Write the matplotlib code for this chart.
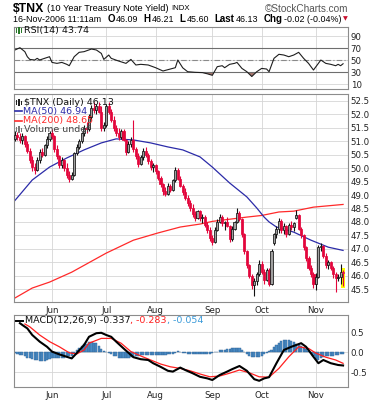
import numpy as np
import pandas as pd
import matplotlib
matplotlib.use('Agg')
import matplotlib.pyplot as plt
from matplotlib.patches import Rectangle

# ---------------- data ----------------
holidays = ['2006-05-29', '2006-07-04', '2006-09-04']
dates = pd.bdate_range('2006-05-10', '2006-11-16')
dates = dates[~dates.isin(pd.to_datetime(holidays))]

opens = [51.10, 51.25, 51.15, 51.05, 51.20, 50.90, 50.65, 50.30, 50.05, 49.95,
         50.30, 50.60, 50.50, 50.85, 51.10, 51.30, 51.20, 50.70, 50.45, 50.10,
         50.30, 50.00, 49.75, 49.60, 49.75, 50.55, 50.80, 51.00, 51.30, 51.50,
         51.45, 51.90, 52.25, 52.15, 52.30, 52.10, 51.50, 51.60, 52.30, 52.10,
         51.80, 51.50, 51.30, 51.15, 51.40, 51.05, 50.60, 50.90, 51.05, 50.70,
         50.45, 50.15, 50.40, 50.65, 50.50, 50.25, 50.05, 50.10, 49.90, 49.65,
         49.40, 49.15, 49.05, 49.35, 49.20, 49.55, 49.95, 49.60, 49.35, 49.10,
         48.90, 48.70, 48.50, 48.30, 48.15, 48.40, 48.15, 48.20, 47.90, 47.70,
         47.40, 47.25, 47.70, 48.00, 48.20, 47.95, 48.00, 47.85, 47.35, 47.75,
         48.00, 48.35, 48.10, 47.55, 46.90, 46.40, 46.00, 45.65, 45.80, 46.05,
         46.45, 46.15, 45.85, 46.20, 45.70, 47.20, 47.55, 47.75, 48.05, 47.70,
         47.85, 47.55, 47.90, 47.80, 48.15, 48.25, 47.75, 47.50, 47.05, 46.65,
         46.30, 46.05, 45.70, 45.95, 47.05, 47.10, 46.75, 46.40, 46.50, 46.30,
         46.05, 45.90, 45.95, 46.09]
highs = [51.40, 51.35, 51.30, 51.30, 51.25, 51.00, 50.75, 50.45, 50.20, 50.40,
         50.70, 50.75, 50.90, 51.20, 51.40, 51.45, 51.25, 50.85, 50.50, 50.40,
         50.35, 50.20, 49.90, 49.85, 50.60, 50.90, 51.10, 51.35, 51.60, 51.70,
         52.00, 52.35, 52.45, 52.40, 52.45, 52.30, 51.70, 52.40, 52.45, 52.20,
         51.95, 51.60, 51.50, 51.45, 51.45, 51.10, 51.00, 51.15, 51.80, 50.80,
         50.55, 50.50, 50.75, 50.80, 50.55, 50.35, 50.20, 50.15, 49.95, 49.70,
         49.45, 49.30, 49.45, 49.40, 49.60, 50.05, 50.00, 49.70, 49.40, 49.25,
         49.00, 48.80, 48.65, 48.40, 48.45, 48.45, 48.30, 48.25, 48.00, 47.80,
         47.50, 47.80, 48.10, 48.30, 48.25, 48.05, 48.20, 47.90, 47.85, 48.05,
         48.50, 48.40, 48.15, 47.60, 46.95, 46.45, 46.05, 45.90, 46.15, 46.60,
         46.55, 46.25, 46.30, 46.30, 47.00, 47.60, 47.85, 48.15, 48.10, 47.95,
         47.90, 47.95, 48.05, 48.00, 48.45, 48.30, 47.80, 47.55, 47.10, 46.75,
         46.40, 46.15, 46.10, 47.15, 47.20, 47.15, 46.85, 46.60, 46.55, 46.35,
         46.15, 46.05, 46.45, 46.21]
lows = [51.00, 51.05, 50.95, 50.90, 50.80, 50.55, 50.20, 49.90, 49.80, 49.90,
        50.20, 50.40, 50.45, 50.75, 51.00, 51.10, 50.60, 50.35, 50.00, 50.00,
        49.90, 49.65, 49.50, 49.55, 49.70, 50.50, 50.70, 50.95, 51.20, 51.30,
        51.40, 51.80, 52.05, 52.00, 52.05, 51.40, 51.40, 51.55, 52.00, 51.70,
        51.40, 51.20, 51.05, 51.10, 51.00, 50.50, 50.55, 50.80, 50.60, 50.35,
        50.05, 50.10, 50.30, 50.40, 50.15, 49.95, 49.85, 49.80, 49.55, 49.30,
        49.00, 48.95, 49.00, 49.10, 49.15, 49.50, 49.55, 49.30, 49.00, 48.80,
        48.60, 48.40, 48.20, 48.05, 48.10, 48.05, 47.95, 47.80, 47.60, 47.30,
        47.15, 47.20, 47.65, 47.95, 47.85, 47.70, 47.80, 47.25, 47.30, 47.70,
        47.95, 48.05, 47.45, 46.80, 46.30, 45.90, 45.50, 45.25, 45.65, 46.00,
        46.05, 45.70, 45.80, 45.60, 45.65, 47.15, 47.40, 47.60, 47.60, 47.55,
        47.45, 47.50, 47.70, 47.65, 48.10, 47.70, 47.40, 46.95, 46.55, 46.20,
        45.95, 45.55, 45.45, 45.90, 46.90, 46.65, 46.30, 46.25, 46.20, 45.90,
        45.40, 45.80, 45.70, 45.60]
closes = [51.25, 51.15, 51.05, 51.20, 50.90, 50.65, 50.30, 50.05, 49.95, 50.30,
          50.60, 50.50, 50.85, 51.10, 51.30, 51.20, 50.70, 50.45, 50.10, 50.30,
          50.00, 49.75, 49.60, 49.75, 50.55, 50.80, 51.00, 51.30, 51.50, 51.45,
          51.90, 52.25, 52.15, 52.30, 52.10, 51.50, 51.60, 52.30, 52.10, 51.80,
          51.50, 51.30, 51.15, 51.40, 51.05, 50.60, 50.90, 51.05, 50.70, 50.45,
          50.15, 50.40, 50.65, 50.50, 50.25, 50.05, 50.10, 49.90, 49.65, 49.40,
          49.15, 49.05, 49.35, 49.20, 49.55, 49.95, 49.60, 49.35, 49.10, 48.90,
          48.70, 48.50, 48.30, 48.15, 48.40, 48.15, 48.20, 47.90, 47.70, 47.40,
          47.25, 47.70, 48.00, 48.20, 47.95, 48.00, 47.85, 47.35, 47.75, 48.00,
          48.35, 48.10, 47.55, 46.90, 46.40, 46.00, 45.65, 45.80, 46.05, 46.45,
          46.15, 45.85, 46.20, 45.70, 46.90, 47.55, 47.75, 48.05, 47.70, 47.85,
          47.55, 47.90, 47.80, 47.95, 48.25, 47.75, 47.50, 47.05, 46.65, 46.30,
          46.05, 45.70, 45.95, 47.05, 47.10, 46.75, 46.40, 46.50, 46.30, 46.05,
          45.90, 45.95, 46.15, 46.13]

ma50_day = [0, 7, 14, 21, 28, 35, 41, 48, 55, 62, 68, 75, 80, 87, 94, 98, 101,
            103, 106, 113, 120, 127, 133]
ma50_val = [48.80, 49.56, 50.04, 50.38, 50.68, 50.94, 51.09, 51.05, 50.94, 50.79,
            50.68, 50.42, 50.04, 49.45, 48.93, 48.52, 48.18, 48.00, 47.81, 47.62,
            47.32, 47.06, 46.94]
ma200_day = [0, 7, 14, 23, 37, 48, 58, 67, 75, 80, 94, 100, 107, 113, 121, 133]
ma200_val = [45.17, 45.54, 45.76, 46.13, 46.84, 47.32, 47.59, 47.81, 47.92, 48.02,
             48.18, 48.24, 48.37, 48.40, 48.55, 48.65]

rsi_day = [0, 2, 4, 5, 6, 8, 9, 10, 12, 14, 15, 17, 19, 21, 22, 24, 26, 28, 31, 33,
           35, 36, 38, 39, 42, 45, 47, 49, 51, 54, 57, 60, 63, 65, 66, 68, 70, 73,
           76, 78, 80, 82, 84, 85, 87, 89, 90, 92, 94, 96, 98, 100, 102, 103, 105,
           107, 109, 111, 113, 115, 117, 119, 121, 124, 126, 128, 130, 131, 132, 133]
rsi_val = [66.7, 70.5, 63.9, 55.5, 51.0, 50.0, 52.8, 50.0, 52.8, 55.5, 46.0, 44.4,
           46.0, 42.8, 40.5, 55.5, 62.8, 63.9, 68.3, 66.7, 61.0, 51.0, 58.3, 52.8,
           48.3, 44.4, 51.0, 41.7, 42.8, 41.7, 37.2, 31.7, 35.0, 37.2, 50.0, 37.0,
           30.5, 29.5, 29.0, 27.0, 24.5, 38.9, 40.5, 37.2, 42.8, 44.4, 46.0, 36.0,
           30.5, 22.5, 30.5, 36.0, 35.0, 30.5, 52.8, 59.5, 58.3, 55.5, 58.3, 62.8,
           52.8, 44.4, 33.3, 50.0, 44.4, 42.8, 40.5, 42.8, 40.5, 43.74]

macd_day = [2, 3, 5, 7, 10, 13, 15, 18, 21, 23, 25, 28, 30, 33, 35, 37, 39, 41, 44,
            48, 51, 54, 56, 59, 62, 64, 67, 69, 72, 75, 78, 80, 83, 86, 88, 91, 94,
            97, 99, 101, 103, 106, 109, 112, 114, 116, 118, 121, 123, 125, 128,
            131, 133]
macd_val = [0.72, 0.675, 0.59, 0.425, 0.26, 0.13, 0.01, -0.06, -0.12, -0.16, -0.03,
            0.175, 0.38, 0.47, 0.48, 0.425, 0.38, 0.26, 0.09, -0.13, -0.18, -0.20,
            -0.28, -0.37, -0.47, -0.49, -0.39, -0.45, -0.53, -0.62, -0.66, -0.70,
            -0.575, -0.49, -0.43, -0.35, -0.47, -0.68, -0.72, -0.66, -0.63, -0.28,
            0.05, 0.13, 0.175, 0.22, 0.13, -0.12, -0.28, -0.20, -0.28, -0.325, -0.337]
signal_day = [4, 6, 10, 14, 18, 22, 25, 28, 30, 35, 39, 43, 47, 51, 55, 59, 63, 67,
              71, 75, 79, 83, 87, 91, 95, 99, 103, 107, 111, 115, 119, 122, 126,
              130, 133]
signal_val = [0.70, 0.63, 0.425, 0.26, 0.13, -0.02, -0.05, 0.05, 0.22, 0.34, 0.34,
              0.22, 0.01, -0.10, -0.20, -0.30, -0.37, -0.41, -0.47, -0.55, -0.62,
              -0.60, -0.53, -0.45, -0.52, -0.62, -0.63, -0.41, -0.12, 0.13, 0.09,
              -0.03, -0.13, -0.20, -0.283]
hist_val = [-0.03, -0.05, -0.07, -0.08, -0.11, -0.14, -0.16, -0.18, -0.20, -0.21,
            -0.22, -0.23, -0.22, -0.20, -0.18, -0.16, -0.15, -0.15, -0.16, -0.16,
            -0.15, -0.13, -0.11, -0.09, -0.02, 0.05, 0.10, 0.15, 0.19, 0.21,
            0.24, 0.24, 0.23, 0.22, 0.15, 0.07, 0.03, 0.00, -0.03, -0.06,
            -0.09, -0.11, -0.14, -0.16, -0.15, -0.14, -0.14, -0.13, -0.12, -0.11,
            -0.10, -0.08, -0.08, -0.08, -0.08, -0.08, -0.08, -0.08, -0.08, -0.07,
            -0.07, -0.07, -0.06, -0.06, -0.06, -0.02, 0.03, 0.01, -0.02, -0.03,
            -0.04, -0.05, -0.05, -0.06, -0.06, -0.06, -0.06, -0.05, -0.05, -0.04,
            -0.03, -0.01, 0.01, 0.04, 0.05, 0.06, 0.07, 0.08, 0.09, 0.10,
            0.11, 0.10, 0.05, 0.01, -0.05, -0.11, -0.13, -0.13, -0.13, -0.13,
            -0.10, -0.05, -0.02, 0.02, 0.05, 0.12, 0.18, 0.22, 0.27, 0.30,
            0.30, 0.29, 0.27, 0.24, 0.20, 0.175, 0.14, 0.11, 0.08, 0.03,
            -0.03, -0.10, -0.18, -0.20, -0.14, -0.12, -0.11, -0.10, -0.10, -0.09,
            -0.08, -0.07, -0.06, -0.054]

month_labels = ['Jun', 'Jul', 'Aug', 'Sep', 'Oct', 'Nov']
price_ticks = [45.5, 46.0, 46.5, 47.0, 47.5, 48.0, 48.5, 49.0, 49.5, 50.0, 50.5,
               51.0, 51.5, 52.0, 52.5]
rsi_ticks = [10, 30, 50, 70, 90]
macd_ticks = [-0.5, 0.0, 0.5]

# ---------------- figure ----------------
W, H = 382, 400
fig = plt.figure(figsize=(W / 100, H / 100), dpi=100)
fig.patch.set_facecolor('white')
renderer = fig.canvas.get_renderer()

def ax_px(l, t, r, b):
    return fig.add_axes([l / W, 1 - b / H, (r - l) / W, (b - t) / H])

def ftext(x, y, s, **kw):
    kw.setdefault('va', 'center')
    kw.setdefault('ha', 'left')
    return fig.text(x / W, 1 - y / H, s, **kw)

def seq(x, y, items):
    for s, kw, gap in items:
        t = ftext(x, y, s, **kw)
        bb = t.get_window_extent(renderer)
        x = bb.x1 + gap
    return x

n = len(dates)
xs = np.arange(n)
month_pos = [int(np.argmax(dates.month == m)) for m in [6, 7, 8, 9, 10, 11]]
XL = (-0.4, 135.0)
GRID = '#d6d6d6'
BORDER = '#8c8c8c'

def style(ax, yt, ylim, ylabels, show_months):
    ax.set_xlim(*XL)
    ax.set_ylim(*ylim)
    ax.set_xticks(month_pos)
    ax.set_xticklabels(month_labels if show_months else [])
    ax.set_yticks(yt)
    ax.set_yticklabels(ylabels)
    ax.yaxis.tick_right()
    ax.tick_params(axis='both', length=0, labelsize=6.2, colors='#222222', pad=2)
    ax.tick_params(axis='x', pad=3)
    for s in ax.spines.values():
        s.set_color(BORDER)
        s.set_linewidth(0.8)
    ax.grid(True, color=GRID, lw=0.6)
    ax.set_axisbelow(True)

# ---- RSI panel ----
ax_r = ax_px(14, 27, 348, 89)
style(ax_r, rsi_ticks, (1.7, 105), [str(v) for v in rsi_ticks], False)
ax_r.axhline(70, color='#6e6e6e', lw=0.8)
ax_r.axhline(30, color='#6e6e6e', lw=0.8)
ax_r.axhline(50, color='#8a8a8a', lw=0.8, ls=(0, (5, 2, 1, 2)))
rd = np.array(rsi_day)
rv = np.array(rsi_val)
ax_r.fill_between(rd, rv, 30, where=rv < 30, interpolate=True, color='#a8776e', lw=0)
ax_r.fill_between(rd, rv, 70, where=rv > 70, interpolate=True, color='#a8776e', lw=0)
ax_r.plot(rd, rv, color='#1e1e1e', lw=0.8)

# ---- Price panel ----
ax_p = ax_px(14, 94, 348, 302)
style(ax_p, price_ticks, (45.02, 52.76), ['%.1f' % v for v in price_ticks], True)
o = np.array(opens); h = np.array(highs); l = np.array(lows); c = np.array(closes)
prev = np.concatenate([[o[0]], c[:-1]])
RED = '#e3063c'
ax_p.add_patch(Rectangle((n - 1 - 0.75, l[-1] - 0.06), 1.5, h[-1] - l[-1] + 0.12,
                         facecolor='#ffff00', edgecolor='none', zorder=1))
ax_p.plot(ma200_day, ma200_val, color='#ff2a2a', lw=0.9, zorder=2)
ax_p.plot(ma50_day, ma50_val, color='#2b2ba8', lw=0.9, zorder=2)
for i in range(n):
    col = RED if c[i] < prev[i] else '#111111'
    ax_p.vlines(xs[i], l[i], h[i], color=col, lw=0.8, zorder=3)
    bot = min(o[i], c[i])
    hgt = max(abs(c[i] - o[i]), 0.03)
    fill = col if c[i] < o[i] else ('#f2a0b0' if col == RED else '#a0a0a0')
    ax_p.add_patch(Rectangle((xs[i] - 0.42, bot), 0.84, hgt, facecolor=fill,
                             edgecolor=col, lw=0.55, zorder=4))

# ---- MACD panel ----
ax_m = ax_px(14, 315, 348, 387)
style(ax_m, macd_ticks, (-0.875, 0.925), ['%.1f' % v for v in macd_ticks], True)
ax_m.bar(xs, hist_val, width=0.85, color='#4a8cc6', edgecolor='#2c5f91', lw=0.3,
         zorder=2)
ax_m.plot(signal_day, signal_val, color='#ff2020', lw=0.9, zorder=3)
ax_m.plot(macd_day, macd_val, color='#000000', lw=1.5, zorder=4)

# ---------------- header texts ----------------
T = ['Liberation Sans', 'DejaVu Sans']
seq(13, 8.5, [('$TNX', dict(fontsize=8.8, fontweight='bold', family=T), 3),
              ('(10 Year Treasury Note Yield)', dict(fontsize=6.7, family=T), 3),
              ('INDX', dict(fontsize=5.6, family=T), 0)])
ftext(348, 8.5, '\u00a9StockCharts.com', fontsize=7.2, family=T, color='#555555',
      ha='right')
B = dict(fontsize=7, fontweight='bold', family=T)
N = dict(fontsize=6.4, family=T)
seq(13, 19, [('16-Nov-2006 11:11am', N, 6),
             ('O', B, 1.5), ('46.09', N, 5),
             ('H', B, 1.5), ('46.21', N, 5),
             ('L', B, 1.5), ('45.60', N, 5),
             ('Last', B, 1.5), ('46.13', N, 5),
             ('Chg', B, 1.5), ('-0.02 (-0.04%)', N, 2),
             ('\u25bc', dict(fontsize=4.5, color='#c8102e', family=['DejaVu Sans']), 0)])

# ---------------- legends ----------------
L = dict(fontsize=6.8, family=['DejaVu Sans'])
def icon(x, y, color):
    for dx, hh in [(0, 5), (2.3, 7), (4.6, 4)]:
        fig.patches.append(Rectangle(((x + dx) / W, 1 - (y + hh / 2) / H), 1.4 / W, hh / H,
                                     transform=fig.transFigure, facecolor=color,
                                     edgecolor='none'))

icon(16, 30.5, '#2a7a2a')
ftext(24, 30.5, 'RSI(14) 43.74', color='#111111', **L)

icon(16, 102.5, '#222222')
ftext(24, 102.5, '$TNX (Daily) 46.13', color='#111111', **L)
fig.add_artist(plt.Line2D([15 / W, 22 / W], [1 - 111 / H] * 2, color='#2b2ba8', lw=1.2))
ftext(23, 111, 'MA(50) 46.94', color='#2b2ba8', **L)
fig.add_artist(plt.Line2D([15 / W, 22 / W], [1 - 120.5 / H] * 2, color='#ff2a2a', lw=1.2))
ftext(23, 120.5, 'MA(200) 48.65', color='#ff2a2a', **L)
icon(16, 129.5, '#777777')
ftext(24, 129.5, 'Volume undef', color='#444444', **L)

fig.add_artist(plt.Line2D([16 / W, 23 / W], [1 - 321 / H] * 2, color='black', lw=1.4))
seq(25, 321, [('MACD(12,26,9) -0.337', dict(color='#111111', **L), 0),
              (', -0.283', dict(color='#ff2020', **L), 0),
              (', -0.054', dict(color='#3a9ad9', **L), 0)])

fig.savefig('out.png', dpi=100, facecolor='white')
